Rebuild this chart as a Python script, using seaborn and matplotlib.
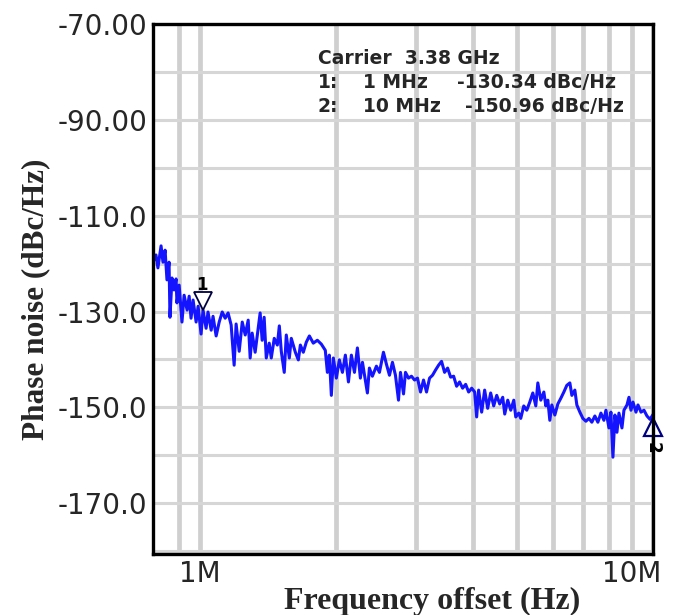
import numpy as np
import pandas as pd
import matplotlib
matplotlib.use('Agg')
import matplotlib.pyplot as plt
import matplotlib.transforms as mtransforms
from matplotlib.ticker import FixedLocator, NullFormatter
import seaborn as sns

freq_mhz = [0.787, 0.799, 0.807, 0.820, 0.828, 0.837, 0.845, 0.854, 0.858, 0.867,
            0.876, 0.885, 0.889, 0.899, 0.912, 0.922, 0.936, 0.946, 0.955, 0.965,
            0.980, 0.990, 1.005, 1.015, 1.031, 1.041, 1.058, 1.068, 1.085, 1.102,
            1.119, 1.136, 1.153, 1.171, 1.189, 1.201, 1.220, 1.239, 1.258, 1.277,
            1.290, 1.303, 1.323, 1.337, 1.357, 1.371, 1.385, 1.400, 1.421, 1.436,
            1.458, 1.481, 1.496, 1.511, 1.534, 1.550, 1.574, 1.590, 1.623, 1.648,
            1.665, 1.690, 1.716, 1.743, 1.778, 1.815, 1.852, 1.890, 1.910, 1.929,
            1.949, 1.969, 1.999, 2.030, 2.062, 2.093, 2.126, 2.158, 2.192, 2.225,
            2.259, 2.283, 2.317, 2.341, 2.365, 2.401, 2.451, 2.489, 2.540, 2.579,
            2.619, 2.659, 2.700, 2.742, 2.770, 2.813, 2.841, 2.885, 2.929, 2.975,
            3.020, 3.067, 3.114, 3.162, 3.211, 3.260, 3.311, 3.362, 3.413, 3.466,
            3.520, 3.574, 3.629, 3.685, 3.741, 3.799, 3.858, 3.917, 3.978, 4.039,
            4.080, 4.121, 4.185, 4.249, 4.315, 4.381, 4.449, 4.518, 4.587, 4.658,
            4.706, 4.778, 4.852, 4.927, 4.977, 5.054, 5.105, 5.184, 5.264, 5.345,
            5.428, 5.511, 5.568, 5.653, 5.741, 5.800, 5.859, 5.918, 5.979, 6.071,
            6.164, 6.259, 6.356, 6.453, 6.553, 6.620, 6.721, 6.790, 6.895, 7.001,
            7.110, 7.219, 7.328, 7.442, 7.556, 7.674, 7.791, 7.871, 7.993, 8.074,
            8.157, 8.240, 8.325, 8.410, 8.540, 8.627, 8.761, 8.850, 8.940, 9.032,
            9.171, 9.265, 9.408, 9.552, 9.698, 9.849, 10.000]
phase_noise = [-119.7, -118.2, -120.9, -116.3, -119.7, -117.2, -123.4, -119.7, -131.2, -123.0,
               -125.5, -123.2, -128.2, -124.5, -132.2, -126.6, -129.7, -126.8, -131.4, -127.6,
               -132.2, -128.9, -134.7, -129.7, -133.5, -130.1, -133.9, -131.0, -135.1, -132.2,
               -130.1, -131.4, -130.3, -132.8, -141.2, -132.6, -138.3, -132.2, -134.9, -131.8,
               -139.7, -134.5, -138.5, -135.1, -130.3, -136.0, -131.2, -139.7, -136.6, -139.7,
               -135.6, -137.0, -133.0, -138.3, -142.7, -134.9, -139.7, -135.6, -138.5, -140.1,
               -137.0, -138.5, -136.4, -135.1, -136.6, -136.0, -136.8, -138.1, -142.7, -139.1,
               -147.5, -139.7, -143.9, -140.1, -142.7, -139.1, -144.7, -139.1, -142.7, -137.6,
               -143.9, -140.6, -144.3, -147.0, -141.8, -143.5, -141.4, -142.7, -138.5, -141.0,
               -143.3, -140.6, -143.3, -148.5, -142.7, -147.2, -142.7, -143.9, -143.5, -144.3,
               -143.9, -146.8, -144.3, -146.8, -143.9, -143.3, -142.2, -141.2, -140.4, -142.7,
               -141.8, -143.7, -143.5, -145.6, -144.7, -146.0, -145.2, -146.8, -146.0, -146.8,
               -152.0, -146.4, -151.0, -146.4, -150.2, -147.0, -149.7, -147.5, -149.3, -147.9,
               -151.4, -148.5, -150.6, -148.5, -152.0, -151.2, -152.3, -149.7, -150.6, -148.9,
               -147.0, -149.7, -144.9, -148.5, -146.8, -149.7, -148.5, -152.7, -149.5, -151.6,
               -149.3, -148.1, -146.8, -145.4, -144.9, -147.5, -146.4, -149.5, -151.0, -152.3,
               -152.9, -152.3, -153.1, -151.8, -153.1, -151.2, -152.7, -150.6, -154.3, -151.0,
               -160.4, -151.6, -155.2, -151.2, -154.3, -150.6, -149.5, -147.9, -150.6, -148.9,
               -151.0, -149.5, -151.0, -150.6, -151.8, -152.5, -151.5]

marker_freq = [1.0, 10.0]
marker_val = [-130.34, -150.96]
marker_names = ['1', '2']

yticks = [-70, -90, -110, -130, -150, -170]
ytick_labels = ['-70.00', '-90.00', '-110.0', '-130.0', '-150.0', '-170.0']
xticks = [1.0, 10.0]
xtick_labels = ['1M', '10M']

df = pd.DataFrame({'freq': freq_mhz, 'pn': phase_noise})

sns.set_style('white')
plt.rcParams['font.family'] = ['DejaVu Sans']

fig = plt.figure(figsize=(6.79, 6.15), dpi=100)
ax = fig.add_axes([0.2253, 0.0992, 0.7364, 0.8618])

sns.lineplot(data=df, x='freq', y='pn', ax=ax, color='#1414ff', linewidth=2.2,
             estimator=None, sort=False, legend=False)

ax.set_xscale('log')
ax.set_xlim(0.787, 10.0)
ax.set_ylim(-180.6, -70)

# grid like the analyser screen
ax.xaxis.set_major_locator(FixedLocator(xticks))
ax.xaxis.set_minor_locator(FixedLocator([0.9, 2, 3, 4, 5, 6, 7, 8, 9]))
ax.xaxis.set_minor_formatter(NullFormatter())
ax.set_xticklabels(xtick_labels, fontsize=20)
ax.set_yticks(yticks)
ax.set_yticks(np.arange(-180, -69, 10), minor=True)
ax.set_yticklabels(ytick_labels, fontsize=20)
ax.grid(True, which='both', axis='x', color='#cfcfcf', linewidth=3.4)
ax.grid(True, which='both', axis='y', color='#d6d6d6', linewidth=2.2)
ax.tick_params(which='both', length=0, pad=4)
ax.tick_params(axis='x', pad=4)

lbls = ax.get_xticklabels()
lbls[-1].set_horizontalalignment('right')
lbls[-1].set_transform(lbls[-1].get_transform() + mtransforms.ScaledTranslation(0.08, 0, fig.dpi_scale_trans))

for s in ax.spines.values():
    s.set_color('black')
    s.set_linewidth(2.4)

ax.set_xlabel('Frequency offset (Hz)', fontsize=23, fontweight='bold', family='Liberation Serif')
ax.set_ylabel('Phase noise (dBc/Hz)', fontsize=22.5, fontweight='bold', family='Liberation Serif')
ax.xaxis.set_label_coords(0.558, -0.062)
ax.yaxis.set_label_coords(-0.205, 0.48)

# markers 1 and 2
up = mtransforms.offset_copy(ax.transData, fig=fig, x=2, y=9, units='points')
down = mtransforms.offset_copy(ax.transData, fig=fig, x=0, y=-11, units='points')
ax.plot(marker_freq[0], marker_val[0], marker='v', ms=13, mfc='white', mec='#000040',
        mew=1.3, transform=up, clip_on=False)
ax.plot(marker_freq[1], marker_val[1], marker='^', ms=13, mfc='white', mec='#000080',
        mew=1.6, transform=down, clip_on=False)
ax.annotate(marker_names[0], (marker_freq[0], marker_val[0]), xytext=(1, 20),
            textcoords='offset points', ha='center', va='center', fontsize=12,
            fontweight='bold', color='black')
ax.annotate(marker_names[1], (marker_freq[1], marker_val[1]), xytext=(0, -26),
            textcoords='offset points', ha='center', va='center', fontsize=12,
            fontweight='bold', color='black', rotation=-90, annotation_clip=False)

# readout box
ax.text(0.33, 0.935, 'Carrier  3.38 GHz', transform=ax.transAxes, fontsize=13.5,
        fontweight='bold', va='center')
rows = [('1:', '1 MHz', '-130.34 dBc/Hz'), ('2:', '10 MHz', '-150.96 dBc/Hz')]
for i, (a, b, c) in enumerate(rows):
    yy = 0.89 - i * 0.045
    ax.text(0.33, yy, a, transform=ax.transAxes, fontsize=13.5, fontweight='bold', va='center')
    ax.text(0.42, yy, b, transform=ax.transAxes, fontsize=13.5, fontweight='bold', va='center')
    ax.text(0.608 + i * 0.016, yy, c, transform=ax.transAxes, fontsize=13.5,
            fontweight='bold', va='center')

fig.savefig('out.png', dpi=100)
